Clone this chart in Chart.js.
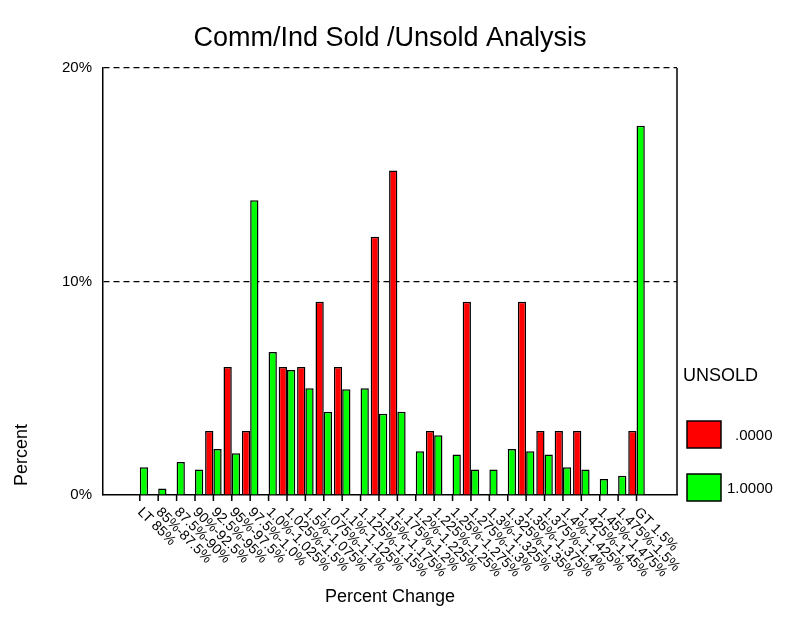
<!DOCTYPE html>
<html>
<head>
<meta charset="utf-8">
<script src="https://cdn.jsdelivr.net/npm/chart.js@4"></script>
<style>
  body { margin: 0; background: #fff; }
  #wrap { width: 798px; height: 639px; }
</style>
</head>
<body>
<div id="wrap"><canvas id="chart"></canvas></div>
<script>
const categories = [
  "LT 85%", "85%-87.5%", "87.5%-90%", "90%-92.5%", "92.5%-95%", "95%-97.5%",
  "97.5%-1.0%", "1.0%-1.025%", "1.025%-1.5%", "1.5%-1.075%", "1.075%-1.1%",
  "1.1%-1.125%", "1.125%-1.15%", "1.15%-1.175%", "1.175%-1.2%", "1.2%-1.225%",
  "1.225%-1.25%", "1.25%-1.275%", "1.275%-1.3%", "1.3%-1.325%", "1.325%-1.35%",
  "1.35%-1.375%", "1.375%-1.4%", "1.4%-1.425%", "1.425%-1.45%", "1.45%-1.475%",
  "1.475%-1.5%", "GT 1.5%"
];
const unsold0 = [
  null, null, null, null, 3.0, 6.0, 3.0, null, 6.0, 6.0, 9.05, 6.0, null, 12.1,
  15.2, null, 3.0, null, 9.05, null, null, 9.05, 3.0, 3.0, 3.0, null, null, 3.0
];
const unsold1 = [
  1.3, 0.3, 1.55, 1.2, 2.15, 1.95, 13.8, 6.7, 5.85, 5.0, 3.9, 4.95, 5.0, 3.8,
  3.9, 2.05, 2.8, 1.9, 1.2, 1.2, 2.15, 2.05, 1.9, 1.3, 1.2, 0.75, 0.9, 17.3
];
const yTicks = [0, 10, 20];

const toPoints = arr => arr.map((v, i) => ({ x: i, y: v }));

const textPlugin = {
  id: "texts",
  afterDraw(chart) {
    const ctx = chart.ctx;
    const area = chart.chartArea;
    const xs = chart.scales.x;
    ctx.save();
    // right border
    ctx.strokeStyle = "#000";
    ctx.lineWidth = 1.5;
    ctx.beginPath();
    ctx.moveTo(area.right, area.top);
    ctx.lineTo(area.right, area.bottom);
    ctx.stroke();
    // tick marks and rotated labels
    ctx.fillStyle = "#000";
    ctx.font = "14px 'Liberation Sans', Arial, sans-serif";
    categories.forEach((c, i) => {
      const px = xs.getPixelForValue(i);
      ctx.beginPath();
      ctx.moveTo(px, area.bottom);
      ctx.lineTo(px, area.bottom + 6);
      ctx.stroke();
      ctx.save();
      ctx.translate(px, area.bottom + 15);
      ctx.rotate(Math.PI / 4);
      ctx.textAlign = "left";
      ctx.textBaseline = "middle";
      ctx.fillText(c, 0, 0);
      ctx.restore();
    });
    // titles
    ctx.textAlign = "center";
    ctx.textBaseline = "middle";
    ctx.font = "27px 'Liberation Sans', Arial, sans-serif";
    ctx.fillText("Comm/Ind Sold /Unsold Analysis", 390, 39);
    ctx.font = "18px 'Liberation Sans', Arial, sans-serif";
    ctx.fillText("Percent Change", 390, 597);
    ctx.save();
    ctx.translate(22, 455);
    ctx.rotate(-Math.PI / 2);
    ctx.fillText("Percent", 0, 0);
    ctx.restore();
    // legend
    ctx.textAlign = "left";
    ctx.fillText("UNSOLD", 683, 376);
    const items = [
      { color: "#ff0000", label: ".0000", y: 421, lx: 735 },
      { color: "#00ff00", label: "1.0000", y: 474, lx: 727 }
    ];
    ctx.font = "15px 'Liberation Sans', Arial, sans-serif";
    items.forEach(it => {
      ctx.fillStyle = it.color;
      ctx.fillRect(687, it.y, 34, 27);
      ctx.strokeRect(687, it.y, 34, 27);
      ctx.fillStyle = "#000";
      ctx.fillText(it.label, it.lx, it.y + 15);
    });
    ctx.restore();
  }
};

new Chart(document.getElementById("chart"), {
  type: "bar",
  data: {
    datasets: [
      { label: ".0000", data: toPoints(unsold0), backgroundColor: "#ff0000",
        borderColor: "#000", borderWidth: 1.5, categoryPercentage: 0.9, barPercentage: 1 },
      { label: "1.0000", data: toPoints(unsold1), backgroundColor: "#00ff00",
        borderColor: "#000", borderWidth: 1.5, categoryPercentage: 0.9, barPercentage: 1 }
    ]
  },
  options: {
    responsive: true,
    maintainAspectRatio: false,
    animation: false,
    layout: { padding: { left: 0, top: 68, right: 121, bottom: 144 } },
    plugins: { legend: { display: false }, title: { display: false }, tooltip: { enabled: false } },
    scales: {
      x: {
        type: "linear",
        min: -2,
        max: 29.2,
        offset: false,
        ticks: { display: false },
        grid: { display: false },
        border: { display: true, color: "#000", width: 1.5 },
        afterFit: s => { s.height = 0; }
      },
      y: {
        min: 0,
        max: 20,
        afterBuildTicks: s => { s.ticks = yTicks.map(v => ({ value: v })); },
        afterFit: s => { s.width = 103; },
        ticks: {
          padding: 11,
          color: "#000",
          font: { size: 15, family: "'Liberation Sans', Arial, sans-serif" },
          callback: v => v + "%"
        },
        grid: {
          drawTicks: false,
          color: ctx => (ctx.tick && ctx.tick.value > 0 ? "#000" : "rgba(0,0,0,0)"),
          lineWidth: 1.2
        },
        border: { display: true, color: "#000", width: 1.5, dash: [6, 4] }
      }
    }
  },
  plugins: [textPlugin]
});
</script>
</body>
</html>
